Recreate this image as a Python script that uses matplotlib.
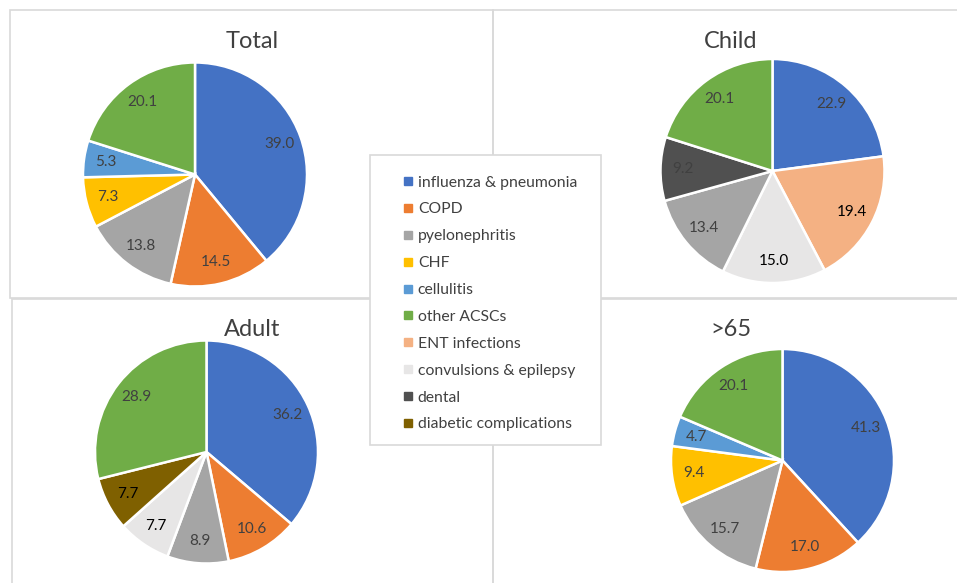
import matplotlib
matplotlib.use("Agg")
import matplotlib.pyplot as plt
from matplotlib.patches import Rectangle
from matplotlib.lines import Line2D

plt.rcParams['font.family'] = ['Lato', 'DejaVu Sans']

# Datos de cada grupo (orden de las porciones, desde las 12 en sentido horario)
total_cats = ['influenza & pneumonia', 'COPD', 'pyelonephritis', 'CHF', 'cellulitis', 'other ACSCs']
total_vals = [39.0, 14.5, 13.8, 7.3, 5.3, 20.1]

child_cats = ['influenza & pneumonia', 'ENT infections', 'convulsions & epilepsy', 'pyelonephritis', 'dental', 'other ACSCs']
child_vals = [22.9, 19.4, 15.0, 13.4, 9.2, 20.1]

adult_cats = ['influenza & pneumonia', 'COPD', 'pyelonephritis', 'convulsions & epilepsy', 'diabetic complications', 'other ACSCs']
adult_vals = [36.2, 10.6, 8.9, 7.7, 7.7, 28.9]

old_cats = ['influenza & pneumonia', 'COPD', 'pyelonephritis', 'CHF', 'cellulitis', 'other ACSCs']
old_vals = [41.3, 17.0, 15.7, 9.4, 4.7, 20.1]

legend_cats = ['influenza & pneumonia', 'COPD', 'pyelonephritis', 'CHF', 'cellulitis', 'other ACSCs',
               'ENT infections', 'convulsions & epilepsy', 'dental', 'diabetic complications']

colores = {
    'influenza & pneumonia': '#4472C4',
    'COPD': '#ED7D31',
    'pyelonephritis': '#A5A5A5',
    'CHF': '#FFC000',
    'cellulitis': '#5B9BD5',
    'other ACSCs': '#70AD47',
    'ENT infections': '#F4B183',
    'convulsions & epilepsy': '#E7E6E6',
    'dental': '#505050',
    'diabetic complications': '#7F6000',
}
# porciones claras llevan etiqueta negra
claras = ['ENT infections', 'convulsions & epilepsy', 'diabetic complications']

W, H = 957, 583
fig = plt.figure(figsize=(W / 100, H / 100), dpi=100)
fig.patch.set_facecolor('white')

# Marcos de los cuatro paneles (en pixeles)
paneles = [(10, 10, 493, 298), (493, 10, 965, 298), (12, 299, 493, 600), (493, 299, 965, 600)]
for x0, y0, x1, y1 in paneles:
    fig.patches.append(Rectangle((x0 / W, 1 - y1 / H), (x1 - x0) / W, (y1 - y0) / H,
                                 transform=fig.transFigure, fill=False,
                                 edgecolor='#D9D9D9', linewidth=1.2))

# (titulo, categorias, valores, centro del pastel, radio, posicion del titulo)
graficos = [
    ('Total', total_cats, total_vals, (195, 174.5), 112, (252, 41)),
    ('Child', child_cats, child_vals, (772.5, 171), 112, (731, 41)),
    ('Adult', adult_cats, adult_vals, (206.5, 452), 111.5, (252, 330)),
    ('>65', old_cats, old_vals, (782.5, 460.5), 111.5, (731, 330)),
]

for titulo, cats, vals, (cx, cy), r, (tx, ty) in graficos:
    ax = fig.add_axes([(cx - r) / W, 1 - (cy + r) / H, 2 * r / W, 2 * r / H])
    wedges, textos = ax.pie(vals, colors=[colores[c] for c in cats], startangle=90,
                            counterclock=False, labels=[f"{v:.1f}" for v in vals],
                            labeldistance=0.8,
                            wedgeprops=dict(edgecolor='white', linewidth=1.8))
    for t, c in zip(textos, cats):
        t.set_ha('center')
        t.set_va('center')
        t.set_fontsize(11)
        t.set_color('black' if c in claras else '#404040')
    ax.set_xlim(-1, 1)
    ax.set_ylim(-1, 1)
    ax.set_aspect('equal')
    ax.axis('off')
    fig.text(tx / W, 1 - ty / H, titulo, ha='center', va='center', fontsize=17, color='#404040')

# Leyenda central con recuadro
fig.patches.append(Rectangle((370 / W, 1 - 445 / H), 231 / W, 290 / H, transform=fig.transFigure,
                             facecolor='white', edgecolor='#D9D9D9', linewidth=1.2, zorder=5))
handles = [Line2D([], [], marker='s', linestyle='none', markersize=5.5,
                  markerfacecolor=colores[c], markeredgecolor=colores[c]) for c in legend_cats]
leg = fig.legend(handles, legend_cats, loc='center', bbox_to_anchor=(490 / W, 1 - 303.5 / H),
                 frameon=False, fontsize=11.3, labelspacing=0.82, handlelength=0.6,
                 handletextpad=0.35, borderpad=0, labelcolor='#404040')
leg.set_zorder(6)

fig.savefig('out.png', dpi=100)
